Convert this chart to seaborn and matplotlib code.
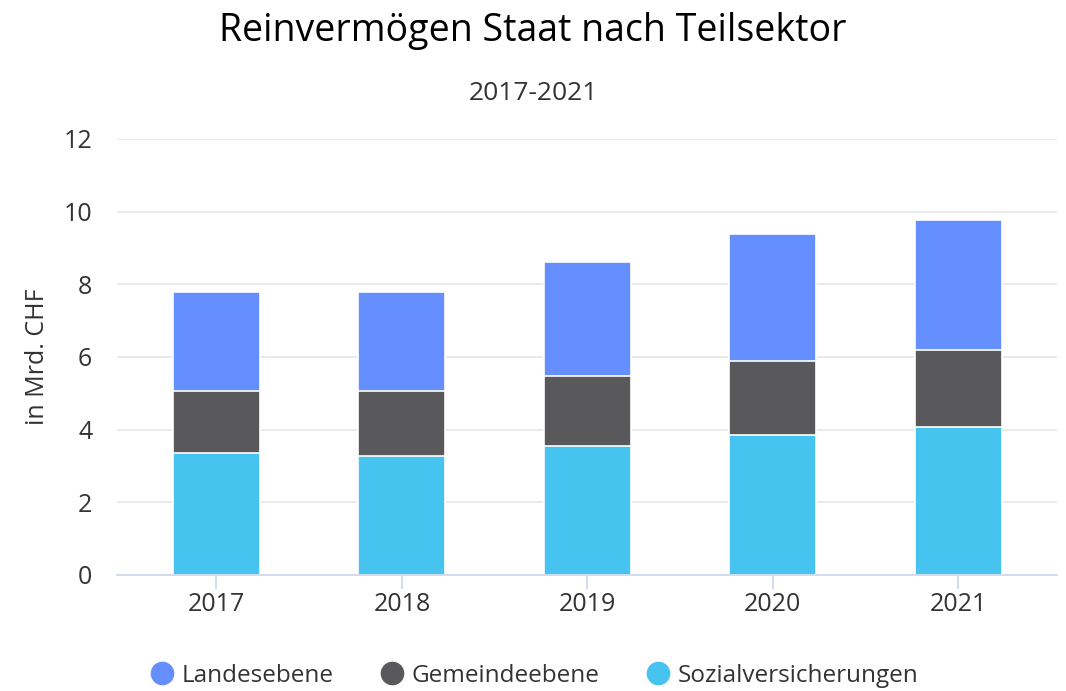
import numpy as np
import pandas as pd
import matplotlib
matplotlib.use("Agg")
import matplotlib.pyplot as plt
from matplotlib.lines import Line2D
import seaborn as sns

# ---- data ----
years = ["2017", "2018", "2019", "2020", "2021"]
sozialversicherungen = [3.36, 3.26, 3.55, 3.86, 4.07]
gemeindeebene = [1.71, 1.81, 1.93, 2.03, 2.12]
landesebene = [2.72, 2.72, 3.12, 3.48, 3.57]

series_names = ["Landesebene", "Gemeindeebene", "Sozialversicherungen"]
COLORS = {
    "Landesebene": "#658fff",
    "Gemeindeebene": "#59595b",
    "Sozialversicherungen": "#46c3ef",
}
TEXT = "#333333"
GRID = "#e6e6e6"
AXIS = "#ccd6eb"

sns.set_theme(style="white")
plt.rcParams["font.family"] = ["Open Sans", "DejaVu Sans"]

df = pd.DataFrame({
    "Jahr": years,
    "Sozialversicherungen": sozialversicherungen,
    "Gemeindeebene": gemeindeebene,
    "Landesebene": landesebene,
})
# cumulative tops for layered (stacked) bars
df["top_sozial"] = df["Sozialversicherungen"]
df["top_gemeinde"] = df["top_sozial"] + df["Gemeindeebene"]
df["top_landes"] = df["top_gemeinde"] + df["Landesebene"]

fig = plt.figure(figsize=(10.66, 6.91), dpi=100)
ax = fig.add_axes([0.110, 0.168, 0.882, 0.631])

for col, name in [("top_landes", "Landesebene"),
                  ("top_gemeinde", "Gemeindeebene"),
                  ("top_sozial", "Sozialversicherungen")]:
    sns.barplot(data=df, x="Jahr", y=col, color=COLORS[name], width=0.47,
                saturation=1, edgecolor="white", linewidth=1.2, ax=ax, zorder=3)

ax.set_ylim(0, 12)
ax.set_xlim(-0.535, 4.535)
ax.set_yticks(range(0, 13, 2))
ax.yaxis.grid(True, color=GRID, linewidth=1.2, zorder=0)
ax.set_axisbelow(True)
for s in ["top", "right", "left"]:
    ax.spines[s].set_visible(False)
ax.spines["bottom"].set_color(AXIS)
ax.spines["bottom"].set_linewidth(1.2)
ax.spines["bottom"].set_zorder(4)

ax.tick_params(axis="x", colors=TEXT, labelsize=18, length=10, width=1.2,
               direction="out", pad=2, bottom=True)
ax.tick_params(axis="x", which="both", color=AXIS)
ax.tick_params(axis="y", colors=TEXT, labelsize=18, length=0, pad=18)
ax.set_xlabel("")
ax.set_ylabel("in Mrd. CHF", fontsize=18, color=TEXT, labelpad=10)

fig.text(0.5, 0.940, "Reinvermögen Staat nach Teilsektor", ha="center", va="baseline",
         fontsize=27, color="#000000")
fig.text(0.5, 0.856, "2017-2021", ha="center", va="baseline", fontsize=19, color=TEXT)

handles = [Line2D([0], [0], marker="o", linestyle="", markersize=16,
                  markerfacecolor=COLORS[n], markeredgecolor=COLORS[n]) for n in series_names]
fig.legend(handles, series_names, loc="center", bbox_to_anchor=(0.5, 0.022),
           ncol=3, frameon=False, fontsize=17.5, labelcolor=TEXT,
           handletextpad=0.2, columnspacing=1.8, handlelength=1.2)

fig.savefig("out.png", dpi=100)
